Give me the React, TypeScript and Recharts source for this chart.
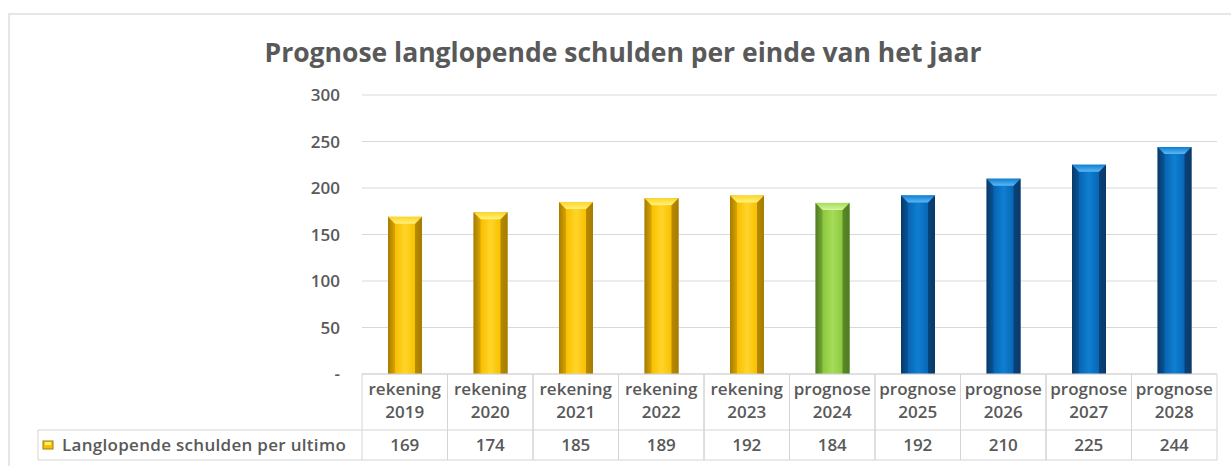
import React from "react";
import { BarChart, Bar, XAxis, YAxis, CartesianGrid, Cell } from "recharts";

// data
const types = ["rekening", "rekening", "rekening", "rekening", "rekening", "prognose", "prognose", "prognose", "prognose", "prognose"];
const years = ["2019", "2020", "2021", "2022", "2023", "2024", "2025", "2026", "2027", "2028"];
const values = [169, 174, 185, 189, 192, 184, 192, 210, 225, 244];
const yTicks = [0, 50, 100, 150, 200, 250, 300];
const seriesName = "Langlopende schulden per ultimo";
const title = "Prognose langlopende schulden per einde van het jaar";

// styling
const barPalette = ["gold", "gold", "gold", "gold", "gold", "green", "blue", "blue", "blue", "blue"];
const palettes: Record<string, { dark: string; base: string; light: string; top: string }> = {
  gold: { dark: "#a67c00", base: "#f8c000", light: "#ffd42a", top: "#fff27a" },
  green: { dark: "#4f7a22", base: "#8cc83f", light: "#a6dc58", top: "#d2f59a" },
  blue: { dark: "#0a3a6a", base: "#0866b4", light: "#0f7fd2", top: "#5cb8f5" },
};

const W = 1231;
const H = 466;
const PLOT_LEFT = 362;
const PLOT_RIGHT = 1217;
const PLOT_TOP = 95;
const PLOT_BOTTOM = 374;
const Y_AXIS_W = 60;
const X_AXIS_H = 88;
const COL_W = (PLOT_RIGHT - PLOT_LEFT) / years.length;
const FONT = "'Open Sans', sans-serif";
const TEXT = "#595959";
const BORDER = "#d4d4d4";

const data = years.map((year, i) => ({ year, type: types[i], value: values[i] }));

function BevelBar(props: any) {
  const { x, y, width, height, index } = props;
  if (!height || height <= 0) return null;
  const p = palettes[barPalette[index]];
  const id = barPalette[index];
  const b = Math.min(7, width / 4);
  return (
    <g>
      <rect x={x} y={y} width={width} height={height} fill={`url(#body-${id})`} />
      <polygon
        points={`${x},${y} ${x + b},${y + b} ${x + b},${y + height} ${x},${y + height}`}
        fill={p.dark}
        opacity={0.35}
      />
      <polygon
        points={`${x + width},${y} ${x + width - b},${y + b} ${x + width - b},${y + height} ${x + width},${y + height}`}
        fill={p.dark}
        opacity={0.8}
      />
      <polygon
        points={`${x},${y} ${x + width},${y} ${x + width - b},${y + b} ${x + b},${y + b}`}
        fill={`url(#top-${id})`}
      />
    </g>
  );
}

function TableTick(props: any) {
  const { x, y, payload } = props;
  const i = payload.index ?? props.index;
  const left = x - COL_W / 2;
  const right = x + COL_W / 2;
  const rowY = y + 56;
  const bottomY = y + 86;
  const txt = { fill: TEXT, fontFamily: FONT, fontSize: 17, fontWeight: 600, textAnchor: "middle" as const };
  return (
    <g>
      <line x1={left} y1={y} x2={left} y2={bottomY} stroke={BORDER} />
      <line x1={right} y1={y} x2={right} y2={bottomY} stroke={BORDER} />
      <line x1={left} y1={rowY} x2={right} y2={rowY} stroke={BORDER} />
      <line x1={left} y1={bottomY} x2={right} y2={bottomY} stroke={BORDER} />
      <text {...txt} x={x} y={y + 21}>{types[i]}</text>
      <text {...txt} x={x} y={y + 44}>{years[i]}</text>
      <text {...txt} x={x} y={y + 77}>{values[i]}</text>
      {i === 0 && (
        <g>
          <line x1={38} y1={rowY} x2={left} y2={rowY} stroke={BORDER} />
          <line x1={38} y1={bottomY} x2={left} y2={bottomY} stroke={BORDER} />
          <line x1={38} y1={rowY} x2={38} y2={bottomY} stroke={BORDER} />
          <rect x={43} y={y + 67} width={10} height={8} fill={palettes.gold.base} stroke={palettes.gold.dark} strokeWidth={1} />
          <rect x={45} y={y + 68} width={6} height={3} fill={palettes.gold.top} />
          <text {...txt} textAnchor="start" x={62} y={y + 77} letterSpacing={0.3}>{seriesName}</text>
        </g>
      )}
    </g>
  );
}

export default function App() {
  return (
    <div style={{ position: "absolute", left: 0, top: 0, width: W, height: H, background: "#fff", overflow: "hidden" }}>
      <div
        style={{
          position: "absolute",
          left: 8,
          top: 13,
          width: W,
          height: H,
          borderTop: "2px solid #e6e6e6",
          borderLeft: "2px solid #e6e6e6",
        }}
      />
      <div
        style={{
          position: "absolute",
          left: 0,
          width: 1246,
          top: 33,
          textAlign: "center",
          fontFamily: FONT,
          fontSize: 26.5,
          fontWeight: 700,
          color: TEXT,
          lineHeight: "38px",
        }}
      >
        {title}
      </div>
      <div style={{ position: "absolute", left: 0, top: 0 }}>
        <BarChart
          width={W}
          height={H}
          data={data}
          margin={{ top: PLOT_TOP, right: W - PLOT_RIGHT, bottom: H - PLOT_BOTTOM - X_AXIS_H, left: PLOT_LEFT - Y_AXIS_W }}
        >
          <defs>
            {Object.entries(palettes).map(([k, p]) => (
              <React.Fragment key={k}>
                <linearGradient id={`body-${k}`} x1="0" y1="0" x2="1" y2="0">
                  <stop offset="0%" stopColor={p.dark} />
                  <stop offset="22%" stopColor={p.base} />
                  <stop offset="50%" stopColor={p.light} />
                  <stop offset="80%" stopColor={p.base} />
                  <stop offset="100%" stopColor={p.dark} />
                </linearGradient>
                <linearGradient id={`top-${k}`} x1="0" y1="0" x2="0" y2="1">
                  <stop offset="0%" stopColor={p.light} />
                  <stop offset="100%" stopColor={p.top} />
                </linearGradient>
              </React.Fragment>
            ))}
          </defs>
          <CartesianGrid vertical={false} stroke="#d9d9d9" />
          <XAxis
            dataKey="year"
            interval={0}
            height={X_AXIS_H}
            tickSize={0}
            tickMargin={0}
            tickLine={false}
            axisLine={{ stroke: BORDER }}
            tick={<TableTick />}
          />
          <YAxis
            width={Y_AXIS_W}
            domain={[0, 300]}
            ticks={yTicks}
            tickSize={0}
            tickMargin={22}
            axisLine={false}
            tickLine={false}
            tickFormatter={(v: number) => (v === 0 ? "-" : String(v))}
            tick={{ fill: TEXT, fontFamily: FONT, fontSize: 17, fontWeight: 600 }}
          />
          <Bar dataKey="value" barSize={34} shape={<BevelBar />} isAnimationActive={false}>
            {data.map((d, i) => (
              <Cell key={d.year} fill={palettes[barPalette[i]].base} />
            ))}
          </Bar>
        </BarChart>
      </div>
    </div>
  );
}
